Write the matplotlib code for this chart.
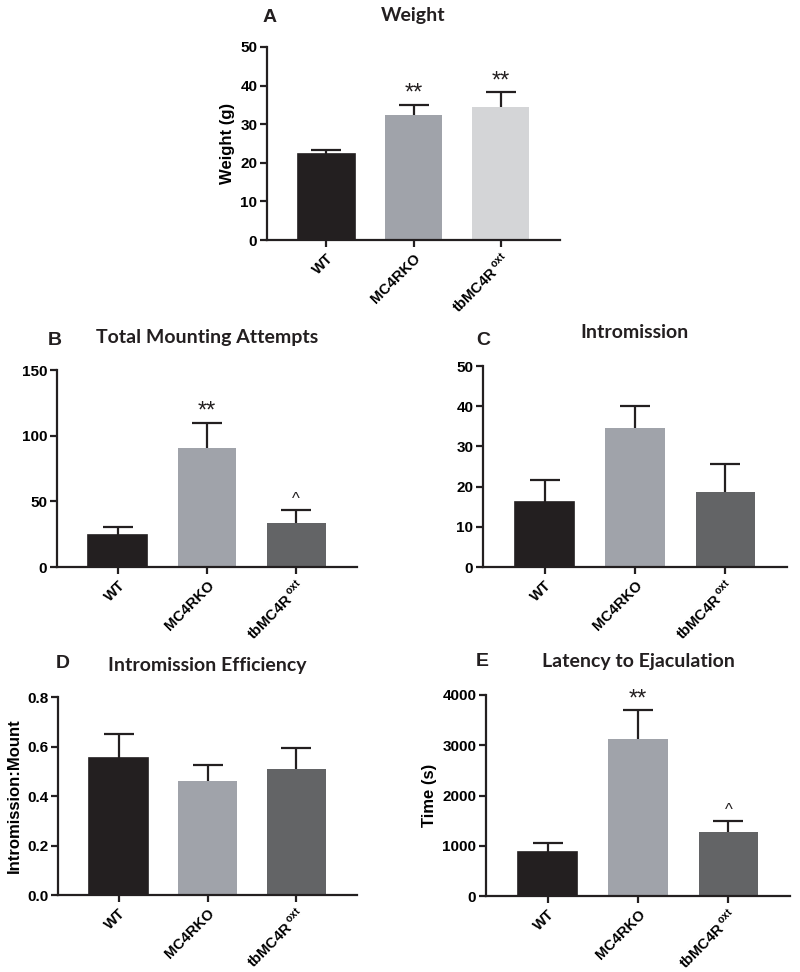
import matplotlib
matplotlib.use("Agg")
import matplotlib.pyplot as plt
import numpy as np

plt.rcParams['font.family'] = ['Liberation Sans', 'DejaVu Sans']
plt.rcParams['font.weight'] = 'bold'
plt.rcParams['mathtext.fontset'] = 'custom'
plt.rcParams['mathtext.rm'] = 'Liberation Sans'

groups = ["WT", "MC4RKO", "tbMC4R$^{\\,\\mathregular{oxt}}$"]

weight_mean = [22.3, 32.4, 34.5]
weight_err = [1.0, 2.6, 3.8]
weight_sig = ["", "**", "**"]

mount_mean = [24.4, 90.6, 33.5]
mount_err = [6.1, 19.1, 9.9]
mount_sig = ["", "**", "^"]

intro_mean = [16.2, 34.6, 18.7]
intro_err = [5.4, 5.4, 6.9]
intro_sig = ["", "", ""]

eff_mean = [0.553, 0.46, 0.51]
eff_err = [0.097, 0.065, 0.084]
eff_sig = ["", "", ""]

lat_mean = [875, 3124, 1274]
lat_err = [180, 576, 219]
lat_sig = ["", "**", "^"]

col_wt = "#231f20"
col_ko = "#a0a3aa"
col_tb_light = "#d4d5d7"
col_tb_dark = "#636466"

W, H = 800, 972
fig = plt.figure(figsize=(8, 9.72), dpi=100)

def add_axes(left, right, top, bottom):
    return fig.add_axes([left / W, 1 - bottom / H, (right - left) / W, (bottom - top) / H])

def panel(ax, means, errs, sigs, colors, yticks, ymax, fmt=None, ylabel=None):
    x = np.arange(len(means))
    ax.bar(x, means, width=0.66, color=colors, edgecolor=[col_wt, 'none', 'none'],
           linewidth=1.2, zorder=2)
    eb = ax.errorbar(x, means, yerr=[np.zeros(len(errs)), errs], fmt='none',
                     ecolor=col_wt, elinewidth=1.6, capsize=11, capthick=1.6, zorder=1)
    caps = eb[1]
    if len(caps) >= 2:
        caps[0].set_visible(False)
    for xi, m, e, s in zip(x, means, errs, sigs):
        if s:
            ax.annotate(s, (xi, m + e), xytext=(0, 0 if s == "**" else 2),
                        textcoords='offset points', ha='center', va='bottom',
                        fontsize=17 if s == "**" else 12, fontweight='normal',
                        color=col_wt)
    ax.set_xlim(-0.68, 2.68)
    ax.set_ylim(0, ymax)
    ax.set_yticks(yticks)
    if fmt:
        ax.set_yticklabels([fmt.format(v) for v in yticks])
    ax.set_xticks(x)
    ax.set_xticklabels(groups, rotation=45, ha='right', rotation_mode='anchor',
                       fontsize=10.5, fontweight='bold')
    for sp in ['top', 'right']:
        ax.spines[sp].set_visible(False)
    for sp in ['left', 'bottom']:
        ax.spines[sp].set_linewidth(1.6)
        ax.spines[sp].set_color(col_wt)
    ax.tick_params(axis='both', width=1.6, length=5, color=col_wt, labelsize=11)
    ax.tick_params(axis='x', pad=3, labelsize=10.5)
    ax.tick_params(axis='y', pad=2)
    for lab in ax.get_yticklabels():
        lab.set_fontweight('bold')
    if ylabel:
        ax.set_ylabel(ylabel, fontsize=12, fontweight='bold', labelpad=4)
    ax.patch.set_alpha(0)

def label(x, y, s, size=14, family=('Lato', 'Liberation Sans'), ha='center'):
    fig.text(x / W, 1 - y / H, s, ha=ha, va='center', fontsize=size,
             fontweight='bold', family=list(family), color=col_wt)

def letter(x, y, s):
    label(x, y, s, size=14, family=('Liberation Sans', 'DejaVu Sans'))

axA = add_axes(267, 560, 47, 240)
panel(axA, weight_mean, weight_err, weight_sig, [col_wt, col_ko, col_tb_light],
      [0, 10, 20, 30, 40, 50], 50, ylabel="Weight (g)")
label(413, 16, "Weight")
letter(270, 18, "A")

axB = add_axes(57, 357, 370, 567)
panel(axB, mount_mean, mount_err, mount_sig, [col_wt, col_ko, col_tb_dark],
      [0, 50, 100, 150], 150)
label(207, 337, "Total Mounting Attempts")
letter(55, 340, "B")

axC = add_axes(483, 787, 366, 567)
panel(axC, intro_mean, intro_err, intro_sig, [col_wt, col_ko, col_tb_dark],
      [0, 10, 20, 30, 40, 50], 50)
label(635, 333, "Intromission")
letter(483, 340, "C")

axD = add_axes(58, 357, 697, 895)
panel(axD, eff_mean, eff_err, eff_sig, [col_wt, col_ko, col_tb_dark],
      [0, 0.2, 0.4, 0.6, 0.8], 0.8, fmt="{:.1f}", ylabel="Intromission:Mount")
label(207, 665, "Intromission Efficiency")
letter(63, 663, "D")

axE = add_axes(486, 790, 695, 896)
panel(axE, lat_mean, lat_err, lat_sig, [col_wt, col_ko, col_tb_dark],
      [0, 1000, 2000, 3000, 4000], 4000, ylabel="Time (s)")
label(638, 662, "Latency to Ejaculation")
letter(482, 662, "E")

fig.savefig("out.png", dpi=100, facecolor="white")
